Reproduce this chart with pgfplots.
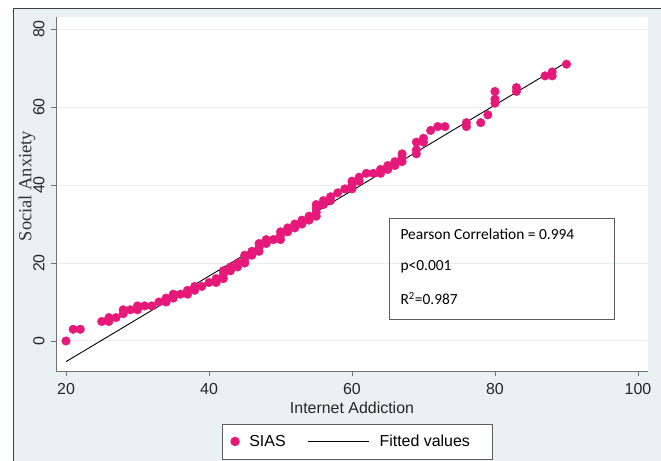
\documentclass[border=0pt]{standalone}
\usepackage{fontspec}
\setmainfont{Liberation Sans}
\newfontfamily\calibri{Carlito}
\newfontfamily\timesf{Liberation Serif}
\usepackage{pgfplots}
\pgfplotsset{compat=1.18}
\definecolor{bgblue}{RGB}{233,241,244}
\definecolor{siaspink}{RGB}{230,24,122}
\definecolor{axgray}{RGB}{115,115,115}
\definecolor{gridblue}{RGB}{230,239,242}
\pgfplotsset{
  dotleg/.style={legend image code/.code={\draw[##1] plot coordinates {(0bp,0bp)};}},
  lineleg/.style={legend image code/.code={\draw[##1] (0bp,0bp) -- (61bp,0bp);}},
}

\begin{document}
\begin{tikzpicture}
\useasboundingbox (0,0) rectangle (661bp,461bp);
\fill[white] (0,0) rectangle (661bp,461bp);
\fill[bgblue] (13bp,0) rectangle (661bp,452bp);
\draw[black!75, line width=1pt] (13bp,0) -- (13bp,452bp) -- (661bp,452bp);
\begin{axis}[
  at={(56bp,90bp)}, anchor=south west,
  scale only axis, width=592bp, height=354bp,
  xmin=18.6, xmax=101.4, ymin=-7.7, ymax=83.1,
  axis x line*=bottom, axis y line*=left,
  axis line style={-, axgray, line width=1pt},
  axis background/.style={fill=white},
  xtick={20,40,...,100}, ytick={0,20,...,80},
  tick align=outside, major tick length=5bp,
  tick style={axgray, line width=0.8pt},
  ymajorgrids, grid style={gridblue, line width=1pt},
  /pgf/number format/assume math mode=true,
  ticklabel style={font=\fontsize{16}{18}\selectfont, text=black!85},
  yticklabel style={rotate=90, anchor=south},
  xticklabel shift=4bp, yticklabel shift=3bp,
  xlabel={Internet Addiction},
  xlabel style={font=\fontsize{16}{18}\selectfont, text=black!85,
    at={(axis description cs:0.5,-0.1045)}, anchor=center},
  ylabel={Social Anxiety},
  ylabel style={font=\timesf\fontsize{18.5}{20}\selectfont, text=black!80,
    at={(axis description cs:-0.049,0.5226)}, anchor=center},
  legend columns=2,
  legend style={at={(axis description cs:0.509,-0.199)}, anchor=center,
    draw=axgray!80!black, line width=0.8pt, fill=white,
    font=\fontsize{16}{18}\selectfont, inner xsep=8bp, inner ysep=9bp,
    /tikz/every odd column/.append style={column sep=8bp},
    /tikz/every even column/.append style={column sep=20bp}},
]
% SIAS scores
\addplot[only marks, mark=*, mark size=4.3bp, siaspink, dotleg]
  coordinates {
  (20,0) (21,3) (22,3) (25,5) (26,5) (26,6) (27,6) (28,7) (28,8) (29,8)
  (30,8) (30,9) (31,9) (32,9) (33,10) (34,10) (34,11) (35,11) (35,12) (36,12)
  (37,12) (37,13) (38,13) (38,14) (39,14) (40,15) (41,15) (41,16) (42,16) (42,17)
  (42,18) (43,18) (43,19) (44,19) (44,20) (45,20) (45,21) (45,22) (46,22) (46,23)
  (47,23) (47,24) (47,25) (48,25) (48,26) (49,26) (50,26) (50,27) (50,28) (51,28)
  (51,29) (52,29) (52,30) (53,30) (53,31) (54,31) (54,32) (55,32) (55,33) (55,34)
  (55,35) (56,35) (56,36) (57,36) (57,37) (58,38) (59,39) (60,39) (60,40) (60,41)
  (61,41) (61,42) (62,43) (63,43) (64,43) (64,44) (65,44) (65,45) (66,45) (66,46)
  (67,46) (67,47) (67,48) (69,48) (69,49) (69,51) (70,51) (70,52) (71,54) (72,55)
  (73,55) (76,55) (76,56) (78,56) (79,58) (80,61) (80,62) (80,64) (83,64) (83,65)
  (87,68) (88,68) (88,69) (90,71)
  };
\addlegendentry{SIAS}
% linear fit
\addplot[black, line width=0.9pt, lineleg]
  coordinates {(20,-5.3) (90,71.5)};
\addlegendentry{Fitted values\hspace*{12bp}}
% statistics box
\draw[axgray!80!black, line width=0.8pt] (rel axis cs:0.564,0.147) rectangle (rel axis cs:0.943,0.432);
\node[anchor=west, font=\calibri\fontsize{15.5}{18}\selectfont] at (rel axis cs:0.576,0.387) {Pearson Correlation = 0.994};
\node[anchor=west, font=\calibri\fontsize{15.5}{18}\selectfont] at (rel axis cs:0.576,0.294) {p<0.001};
\node[anchor=west, font=\calibri\fontsize{15.5}{18}\selectfont] at (rel axis cs:0.576,0.204) {R\textsuperscript{2}=0.987};
\end{axis}
\end{tikzpicture}
\end{document}
